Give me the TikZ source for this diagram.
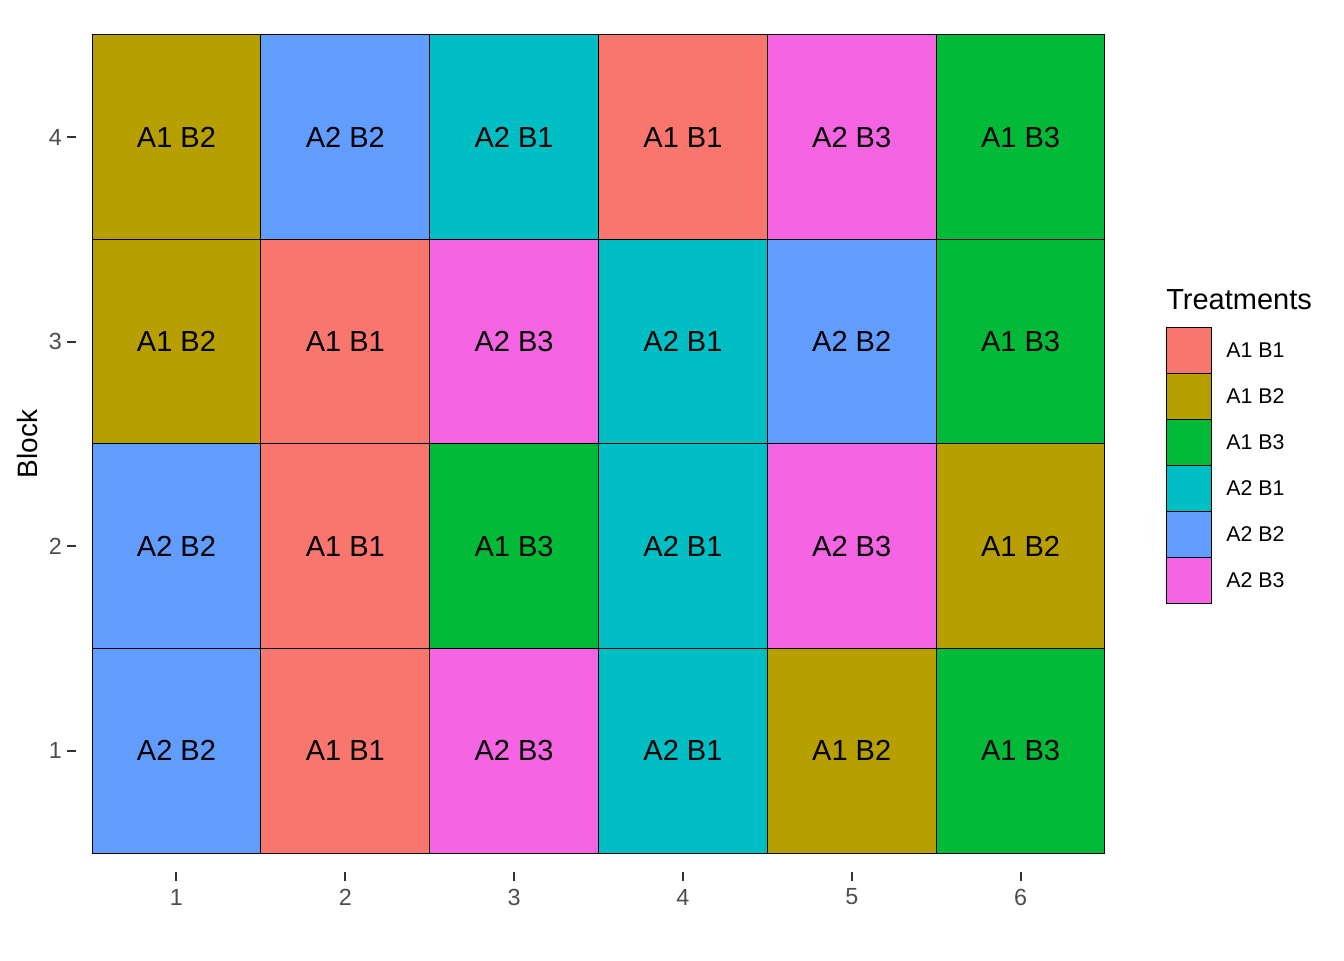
\documentclass[tikz,border=0pt]{standalone}
\usepackage{fontspec}
\setmainfont{Liberation Sans}
\usetikzlibrary{positioning}
\definecolor{t11}{HTML}{F8766D}
\definecolor{t12}{HTML}{B79F00}
\definecolor{t13}{HTML}{00BA38}
\definecolor{t21}{HTML}{00BFC4}
\definecolor{t22}{HTML}{619CFF}
\definecolor{t23}{HTML}{F564E3}
\definecolor{tickgrey}{HTML}{4D4D4D}
\definecolor{tickline}{HTML}{333333}
\tikzset{
  every picture/.style={x=0.75pt, y=-0.75pt},
  cell/.style={draw=black, fill=#1, line width=0.75pt, minimum width=126.6pt, minimum height=153.4pt, inner sep=0pt, outer sep=0pt, font=\fontsize{21.75}{26}\selectfont},
  key/.style={draw=black, fill=#1, line width=0.75pt, minimum width=33.75pt, minimum height=34.5pt, inner sep=0pt, outer sep=0pt},
  ticklab/.style={text=tickgrey, font=\fontsize{17.5}{20}\selectfont, inner sep=0pt},
  tick/.style={draw=tickline, line width=1.4pt},
  keylab/.style={font=\fontsize{16}{19}\selectfont, anchor=west, inner sep=0pt},
  axtitle/.style={font=\fontsize{21}{25}\selectfont, inner sep=0pt},
}
\begin{document}
\begin{tikzpicture}
\useasboundingbox (0,0) rectangle (1344,960);
% field plan, block 4 on top
\foreach \row [count=\r] in {{1/2,2/2,2/1,1/1,2/3,1/3},{1/2,1/1,2/3,2/1,2/2,1/3},{2/2,1/1,1/3,2/1,2/3,1/2},{2/2,1/1,2/3,2/1,1/2,1/3}}
  \foreach \a/\b [count=\c] in \row
    \node[cell=t\a\b] (c\r-\c) at ({92+168.83*(\c-0.5)},{35+204.5*(\r-0.5)}) {A\a{} B\b};
% axes
\foreach \i in {1,...,4} {
  \node[ticklab, anchor=east] (yl\i) at (62,{35+204.5*(4.5-\i)}) {\i};
  \draw[tick] ([xshift=4pt]yl\i.east) -- ++(9,0);
}
\foreach \i in {1,...,6} {
  \node[ticklab] (xl\i) at ({92+168.83*(\i-0.5)},897) {\i};
  \draw[tick] ([yshift=5.7pt]xl\i.north) -- ++(0,-9);
}
\node[axtitle, rotate=90] (ytitle) at (27,444) {Block};
% legend
\node[anchor=west, inner sep=0pt, font=\fontsize{21.75}{26}\selectfont] (ltitle) at (1166,300) {Treatments};
\foreach \a/\b [count=\k] in {1/1,1/2,1/3,2/1,2/2,2/3} {
  \node[key=t\a\b] (k\k) at (1188.5,{350+46*(\k-1)}) {};
  \node[keylab] (kl\k) at (1226,{350+46*(\k-1)}) {A\a{} B\b};
}
\end{tikzpicture}
\end{document}
